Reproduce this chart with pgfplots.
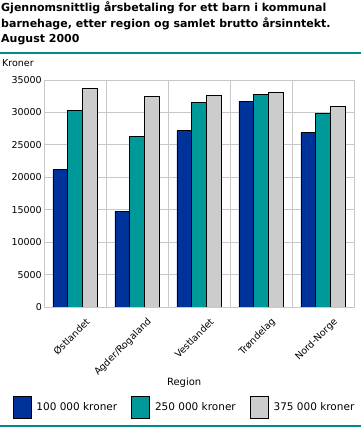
\documentclass[border=0pt]{standalone}
\usepackage{fontspec}
\setmainfont{DejaVu Sans}
\usepackage{pgfplots}
\pgfplotsset{compat=1.18}
\definecolor{sbblue}{HTML}{003399}
\definecolor{sbteal}{HTML}{009999}
\definecolor{sbgray}{HTML}{CCCCCC}
\definecolor{gridgray}{HTML}{C8C8C8}
\definecolor{ruleteal}{HTML}{008B8B}
\begin{document}
\begin{tikzpicture}
\useasboundingbox (0pt,0pt) rectangle (361pt,427pt);
\draw[ruleteal, line width=1.2pt] (0pt,374pt) -- (361pt,374pt);
\draw[ruleteal, line width=1.2pt] (0pt,1pt) -- (361pt,1pt);
\node[anchor=base west, font=\fontsize{11}{14}\selectfont\bfseries, inner sep=0pt] at (1pt,415pt) {Gjennomsnittlig årsbetaling for ett barn i kommunal};
\node[anchor=base west, font=\fontsize{11}{14}\selectfont\bfseries, inner sep=0pt] at (1pt,399.5pt) {barnehage, etter region og samlet brutto årsinntekt.};
\node[anchor=base west, font=\fontsize{11}{14}\selectfont\bfseries, inner sep=0pt] at (1pt,384pt) {August 2000};
\node[anchor=base west, font=\fontsize{9.5}{12}\selectfont, inner sep=0pt] at (2pt,360pt) {Kroner};
\begin{axis}[
  at={(44pt,120pt)}, anchor=south west,
  scale only axis, width=310pt, height=227pt,
  ymin=0, ymax=35000, xmin=-0.5, xmax=4.5,
  ytick={0,5000,...,35000},
  ybar=0pt, bar width=14.7pt,
  xtick={0,1,2,3,4},
  xticklabels={Østlandet,Agder/Rogaland,Vestlandet,Trøndelag,Nord-Norge},
  x tick label style={xshift=13pt, yshift=-9pt, rotate=45, anchor=east, font=\fontsize{9.5}{12}\selectfont, inner sep=0pt},
  minor xtick={0.5,1.5,2.5,3.5},
  xminorgrids, ymajorgrids,
  grid style={gridgray, line width=0.8pt},
  minor grid style={gridgray, line width=0.8pt},
  axis line style={gridgray, line width=0.8pt},
  tick style={draw=none},
  scaled y ticks=false,
  /pgf/number format/assume math mode=true,
  yticklabel style={/pgf/number format/1000 sep={}, font=\fontsize{9.5}{12}\selectfont, inner sep=2pt},
  xlabel={Region},
  xlabel style={at={(0.452,-0.335)}, anchor=center, font=\fontsize{10}{12}\selectfont},
  legend columns=3,
  legend style={draw=none, at={(0.45,-0.4405)}, anchor=center, font=\fontsize{10.5}{12}\selectfont,
    nodes={inner xsep=0pt},
    /tikz/every odd column/.append style={column sep=5pt},
    /tikz/every even column/.append style={column sep=14pt}},
  legend image code/.code={\draw[#1] (0pt,-11pt) rectangle (18pt,11pt);},
]
\addplot[fill=sbblue, draw=black, line width=0.8pt] coordinates {(0,21200) (1,14750) (2,27200) (3,31700) (4,26900)};
\addplot[fill=sbteal, draw=black, line width=0.8pt] coordinates {(0,30300) (1,26300) (2,31550) (3,32800) (4,29850)};
\addplot[fill=sbgray, draw=black, line width=0.8pt] coordinates {(0,33700) (1,32450) (2,32600) (3,33100) (4,30950)};
\legend{100 000 kroner, 250 000 kroner, 375 000 kroner}
\end{axis}
\end{tikzpicture}
\end{document}
